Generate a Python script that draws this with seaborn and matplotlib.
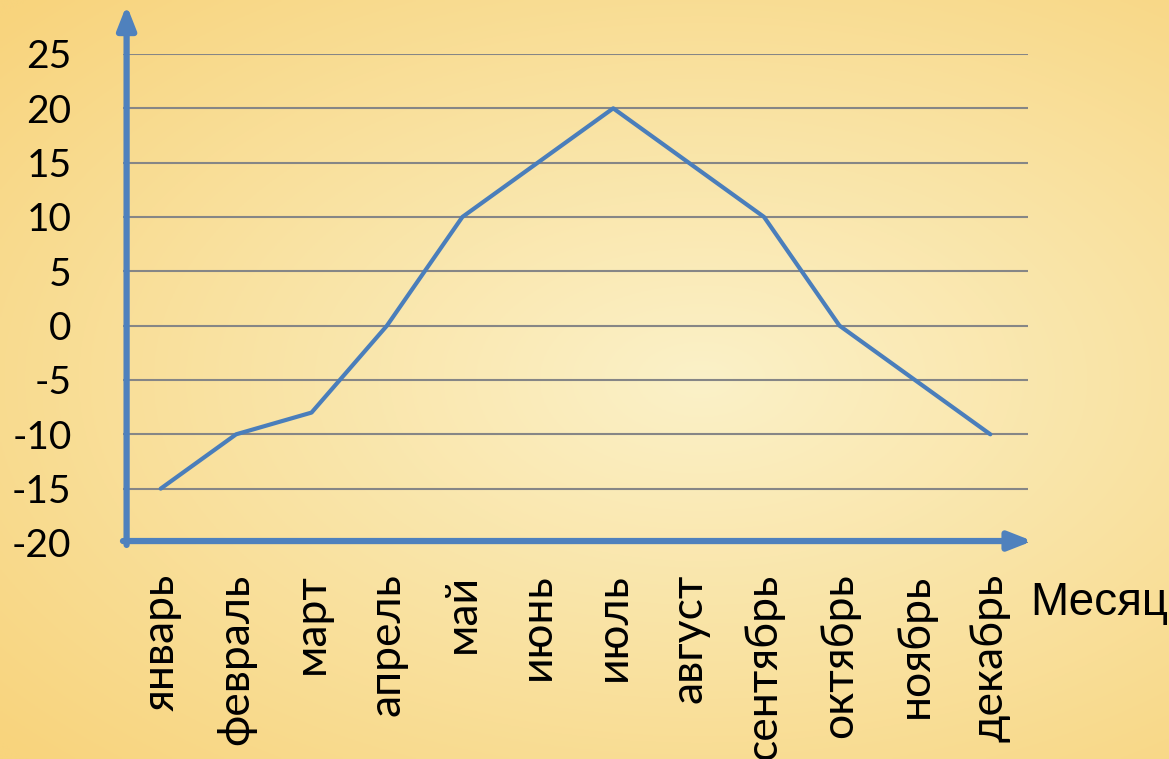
import numpy as np
import pandas as pd
import matplotlib
matplotlib.use("Agg")
import matplotlib.pyplot as plt
import seaborn as sns

months = ["январь", "февраль", "март", "апрель", "май", "июнь",
          "июль", "август", "сентябрь", "октябрь", "ноябрь", "декабрь"]
temps = [-15, -10, -8, 0, 10, 15, 20, 15, 10, 0, -5, -10]
y_ticks = [-20, -15, -10, -5, 0, 5, 10, 15, 20, 25]
x_title = "Месяц"

sns.set_style("white")
plt.rcParams["font.family"] = ["Lato", "DejaVu Sans"]

fig = plt.figure(figsize=(11.69, 7.59), dpi=100)

# radial yellow background
bg = fig.add_axes([0, 0, 1, 1], zorder=-10)
yy, xx = np.mgrid[0:1:300j, 0:1:460j]
r = np.sqrt(((xx - 0.6) / 1.0) ** 2 + ((yy - 0.5) / 0.9) ** 2)
r = np.clip(r / 0.8, 0, 1)
c_in = np.array([251, 241, 200]) / 255
c_out = np.array([248, 212, 125]) / 255
img = c_in[None, None, :] * (1 - r[..., None]) + c_out[None, None, :] * r[..., None]
bg.imshow(img, extent=[0, 1, 0, 1], aspect="auto", origin="upper")
bg.axis("off")

ax = fig.add_axes([0.1052, 0.2846, 0.7742, 0.6443])
ax.patch.set_alpha(0)
df = pd.DataFrame({"month": months, "temp": temps})
sns.lineplot(data=df, x="month", y="temp", ax=ax, color="#4A7EBB", lw=3, sort=False)

ax.set_xlim(-0.5, len(months) - 0.5)
ax.set_ylim(-20, 25)
ax.set_yticks(y_ticks)
ax.set_yticklabels([str(v) for v in y_ticks], fontsize=28, color="black")
ax.set_xticks(range(len(months)))
ax.set_xticklabels(months, rotation=90, fontsize=32, color="black")
ax.set_xticks(np.arange(-0.5, len(months), 1), minor=True)
ax.tick_params(axis="x", which="major", length=0, pad=22)
ax.tick_params(axis="x", which="minor", length=15, width=1.3, color="#868686", direction="out")
ax.tick_params(axis="y", length=12, width=1.3, color="#868686", pad=25)
ax.yaxis.grid(True, color="#868686", lw=1.5)
ax.set_axisbelow(True)
for s in ax.spines.values():
    s.set_visible(False)
ax.set_xlabel("")
ax.set_ylabel("")

# blue axis arrows
arrow = dict(arrowstyle="-|>,head_length=1.4,head_width=0.55", color="#4F81BD", lw=4.5,
             shrinkA=0, shrinkB=0)
ax.annotate("", xy=(0.004, 1.1), xytext=(0.004, -0.004), xycoords="axes fraction",
            arrowprops=arrow, annotation_clip=False)
ax.annotate("", xy=(1.005, 0.004), xytext=(0.0, 0.004), xycoords="axes fraction",
            arrowprops=arrow, annotation_clip=False)

fig.text(0.881, 0.2055, x_title, fontsize=33, color="black",
         family=["Liberation Sans", "DejaVu Sans"], va="center", ha="left")

fig.savefig("out.png", dpi=100)
